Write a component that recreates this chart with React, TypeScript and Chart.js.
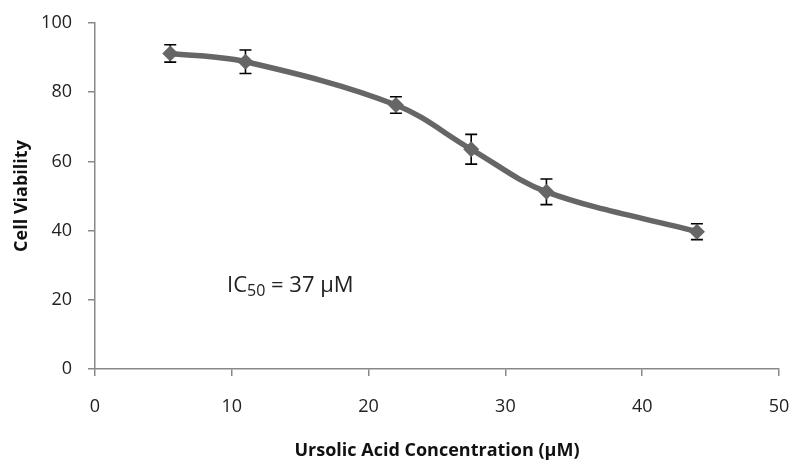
import React, { useEffect, useRef } from "react";
import { Chart, registerables } from "chart.js";

Chart.register(...registerables);

const concentrations = [5.5, 11, 22, 27.5, 33, 44];
const viability = [91.2, 88.8, 76.3, 63.5, 51.2, 39.7];
const errors = [2.5, 3.4, 2.4, 4.3, 3.7, 2.3];
const xTicks = [0, 10, 20, 30, 40, 50];
const yTicks = [0, 20, 40, 60, 80, 100];
const xTitle = "Ursolic Acid Concentration (µM)";
const yTitle = "Cell Viability";
const annotationMain = "IC";
const annotationSub = "50";
const annotationRest = " = 37 µM";
const annotationAt = { x: 9.65, y: 22.3 };

const FONT = "'Open Sans', sans-serif";

const errorBarPlugin = {
  id: "errorBars",
  beforeDatasetsDraw(chart: any) {
    const { ctx, scales } = chart;
    const xs = scales.x;
    const ys = scales.y;
    ctx.save();
    ctx.strokeStyle = "#000";
    ctx.lineWidth = 1.6;
    concentrations.forEach((c, i) => {
      const px = xs.getPixelForValue(c);
      const top = ys.getPixelForValue(viability[i] + errors[i]);
      const bot = ys.getPixelForValue(viability[i] - errors[i]);
      const cap = 6;
      ctx.beginPath();
      ctx.moveTo(px, top);
      ctx.lineTo(px, bot);
      ctx.moveTo(px - cap, top);
      ctx.lineTo(px + cap, top);
      ctx.moveTo(px - cap, bot);
      ctx.lineTo(px + cap, bot);
      ctx.stroke();
    });
    ctx.restore();
  },
};

const annotationPlugin = {
  id: "icAnnotation",
  afterDraw(chart: any) {
    const { ctx, scales } = chart;
    const x = scales.x.getPixelForValue(annotationAt.x);
    const y = scales.y.getPixelForValue(annotationAt.y);
    ctx.save();
    ctx.fillStyle = "#222";
    ctx.textBaseline = "alphabetic";
    ctx.textAlign = "left";
    ctx.font = `22px ${FONT}`;
    ctx.fillText(annotationMain, x, y);
    let cx = x + ctx.measureText(annotationMain).width;
    ctx.font = `16px ${FONT}`;
    ctx.fillText(annotationSub, cx, y + 4);
    cx += ctx.measureText(annotationSub).width;
    ctx.font = `22px ${FONT}`;
    ctx.fillText(annotationRest, cx, y);
    ctx.restore();
  },
};

export default function App() {
  const ref = useRef<HTMLCanvasElement>(null);
  useEffect(() => {
    if (!ref.current) return;
    const chart = new Chart(ref.current, {
      type: "line",
      data: {
        datasets: [
          {
            data: concentrations.map((c, i) => ({ x: c, y: viability[i] })),
            borderColor: "#666666",
            backgroundColor: "#666666",
            borderWidth: 5.5,
            tension: 0.35,
            pointStyle: "rectRot",
            pointRadius: 8,
            pointBorderWidth: 0,
            pointBackgroundColor: "#666666",
            fill: false,
          },
        ],
      },
      options: {
        responsive: false,
        animation: false,
        layout: { padding: { top: 23, right: 15, left: 0, bottom: 0 } },
        plugins: {
          legend: { display: false },
          tooltip: { enabled: false },
        },
        scales: {
          x: {
            type: "linear",
            min: 0,
            max: 50,
            afterBuildTicks: (s: any) => {
              s.ticks = xTicks.map((v) => ({ value: v }));
            },
            afterFit: (s: any) => {
              s.height = 93;
              s.paddingLeft = 0;
              s.paddingRight = 0;
            },
            ticks: {
              color: "#222",
              font: { family: FONT, size: 18 },
              padding: 20,
              maxRotation: 0,
            },
            grid: {
              drawOnChartArea: false,
              drawTicks: true,
              tickLength: 7,
              color: "#888",
              lineWidth: 1.5,
            },
            border: { display: true, color: "#888", width: 1.5 },
            title: {
              display: true,
              text: xTitle,
              color: "#111",
              font: { family: FONT, size: 18, weight: "bold" },
              padding: { top: 0, bottom: 0 },
            },
          },
          y: {
            type: "linear",
            min: 0,
            max: 100,
            afterBuildTicks: (s: any) => {
              s.ticks = yTicks.map((v) => ({ value: v }));
            },
            afterFit: (s: any) => {
              s.width = 95;
              s.paddingTop = 0;
              s.paddingBottom = 0;
            },
            ticks: {
              color: "#222",
              font: { family: FONT, size: 18 },
              padding: 16,
            },
            grid: {
              drawOnChartArea: false,
              drawTicks: true,
              tickLength: 7,
              color: "#888",
              lineWidth: 1.5,
            },
            border: { display: true, color: "#888", width: 1.5 },
            title: {
              display: true,
              text: yTitle,
              color: "#111",
              font: { family: FONT, size: 18, weight: "bold" },
              padding: { top: 11, bottom: 0 },
            },
          },
        },
      },
      plugins: [errorBarPlugin, annotationPlugin],
    } as any);
    return () => chart.destroy();
  }, []);
  return (
    <div style={{ position: "fixed", left: 0, top: 0, width: 794, height: 462, background: "#fff" }}>
      <canvas ref={ref} width={794} height={462} />
    </div>
  );
}
